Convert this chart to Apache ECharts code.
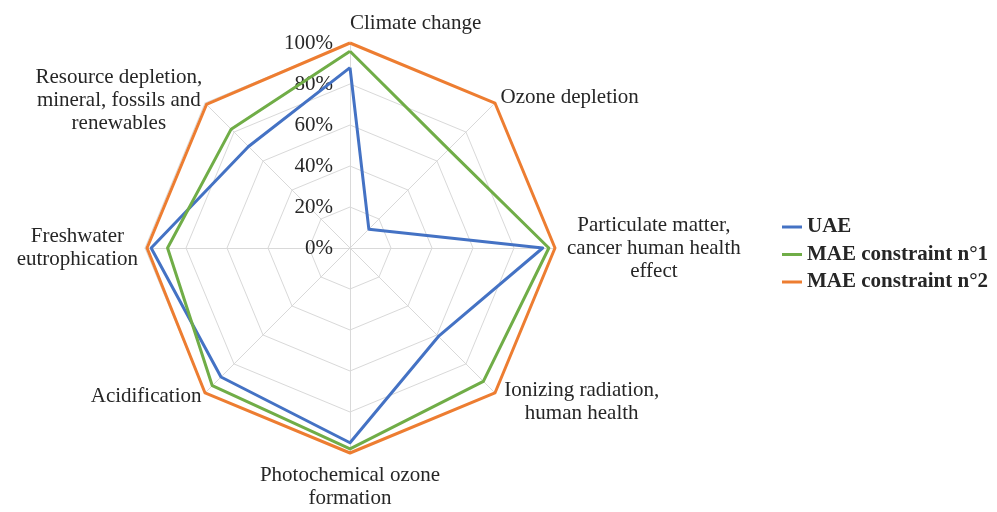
<!DOCTYPE html>
<html>
<head>
<meta charset="utf-8">
<script src="https://cdn.jsdelivr.net/npm/echarts@6/dist/echarts.min.js"></script>
<style>
html,body{margin:0;padding:0;background:#fff;}
#chart{width:997px;height:512px;}
</style>
</head>
<body>
<div id="chart"></div>
<script>
// Indicators in ECharts order (counter-clockwise starting at the top)
const categories = [
  'Climate change',
  'Resource depletion,\nmineral, fossils and\nrenewables',
  'Freshwater\neutrophication',
  'Acidification',
  'Photochemical ozone\nformation',
  'Ionizing radiation,\nhuman health',
  'Particulate matter,\ncancer human health\neffect',
  'Ozone depletion'
];
const seriesNames = ['UAE', 'MAE constraint n°1', 'MAE constraint n°2'];
const uae  = [88, 70, 97, 89, 95, 61, 94, 13];
const mae1 = [96, 82, 89, 95, 98, 92, 97, 68];
const mae2 = [100, 99, 99, 100, 100, 100, 100, 100];
const axisMax = 100;
const tickLabels = ['0%', '20%', '40%', '60%', '80%', '100%'];

// label placement (styling only)
const nameLayout = [
  {gap: 20, align: 'left',   va: 'middle'},
  {gap: 4,  align: 'right',  va: 'middle'},
  {gap: 7,  align: 'right',  va: 'middle'},
  {gap: 5,  align: 'right',  va: 'middle'},
  {gap: 11, align: 'center', va: 'top'},
  {gap: 13, align: 'left',   va: 'middle'},
  {gap: 12, align: 'left',   va: 'middle'},
  {gap: 8,  align: 'left',   va: 'middle'}
];
const colors = ['#4472C4', '#70AD47', '#ED7D31'];
const textColor = '#262626';
const font = '"Liberation Serif", "Times New Roman", serif';

const indicator = categories.map(function (name, i) {
  const ind = {
    name: name,
    min: 0,
    max: axisMax,
    nameGap: nameLayout[i].gap,
    nameTextStyle: {align: nameLayout[i].align, verticalAlign: nameLayout[i].va}
  };
  if (i === 0) {
    ind.axisLabel = {
      show: true,
      margin: 17,
      color: textColor,
      fontFamily: font,
      fontSize: 21,
      formatter: function (v) { return tickLabels[Math.round(v / (axisMax / 5))]; }
    };
  }
  return ind;
});

const values = [uae, mae1, mae2];
const chart = echarts.init(document.getElementById('chart'));
chart.setOption({
  backgroundColor: '#ffffff',
  animation: false,
  legend: {
    orient: 'vertical',
    left: 777,
    top: 211,
    itemWidth: 20,
    itemHeight: 3,
    itemGap: 5.5,
    icon: 'rect',
    data: seriesNames,
    textStyle: {color: textColor, fontFamily: font, fontSize: 21, fontWeight: 'bold', lineHeight: 22}
  },
  radar: {
    center: [350, 248],
    radius: 205,
    shape: 'polygon',
    splitNumber: 5,
    startAngle: 90,
    indicator: indicator,
    axisName: {
      color: textColor,
      fontFamily: font,
      fontSize: 21,
      lineHeight: 23,
      formatter: function (name) {
        return name.split('\n').map(function (s) { return '{c|' + s + '}'; }).join('\n');
      },
      rich: {
        c: {align: 'center', color: textColor, fontFamily: font, fontSize: 21, lineHeight: 23}
      }
    },
    axisLine: {lineStyle: {color: '#d9d9d9', width: 1}},
    splitLine: {lineStyle: {color: '#d9d9d9', width: 1}},
    splitArea: {show: false},
    axisTick: {show: false},
    axisLabel: {show: false}
  },
  series: [{
    type: 'radar',
    symbol: 'none',
    data: values.map(function (v, i) {
      return {
        name: seriesNames[i],
        value: v,
        lineStyle: {color: colors[i], width: 3},
        itemStyle: {color: colors[i]}
      };
    })
  }]
});
</script>
</body>
</html>
